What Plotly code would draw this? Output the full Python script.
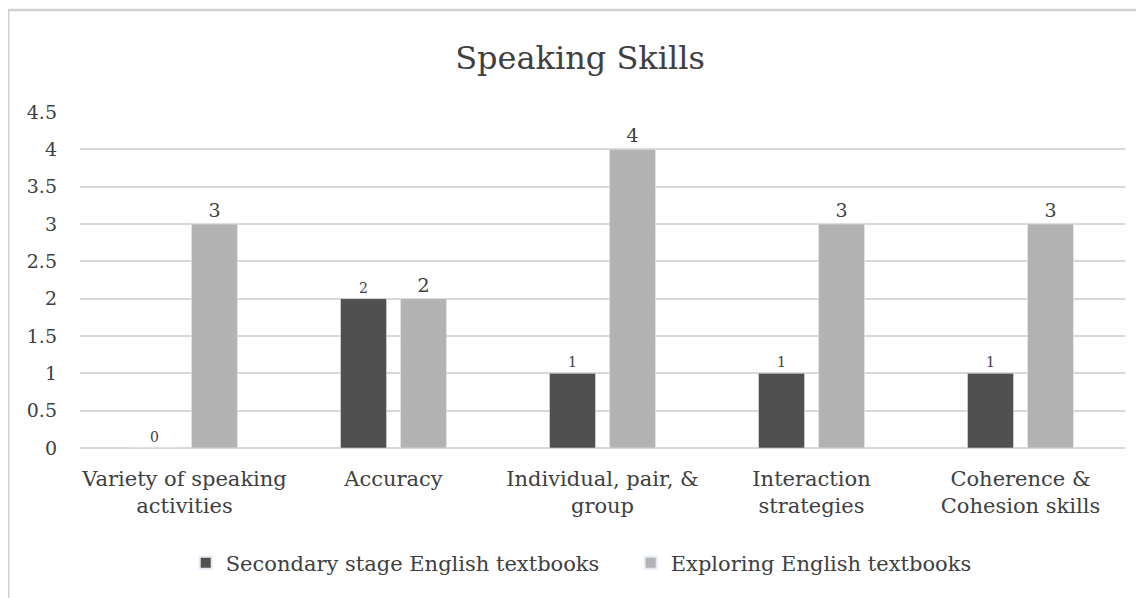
import plotly.graph_objects as go

categories = ["Variety of speaking<br>activities", "Accuracy", "Individual, pair, &<br>group",
              "Interaction<br>strategies", "Coherence &<br>Cohesion skills"]
secondary = [0, 2, 1, 1, 1]
exploring = [3, 2, 4, 3, 3]
tick_vals = [0, 0.5, 1, 1.5, 2, 2.5, 3, 3.5, 4, 4.5]
tick_text = ["0", "0.5", "1", "1.5", "2", "2.5", "3", "3.5", "4", "4.5"]

font_family = "DejaVu Serif, Liberation Serif, serif"
text_color = "#404040"

W, H = 1144, 598
L, R, T, B = 72, 27, 104, 158
PW, PH = W - L - R, H - T - B

def px(xf):
    return (xf - L) / PW

def py(yf):
    return (H - B - yf) / PH

fig = go.Figure()
fig.add_trace(go.Bar(
    x=categories, y=secondary, name="Secondary stage English textbooks",
    marker=dict(color="#505050"), text=[str(v) for v in secondary],
    textposition="outside", textfont=dict(size=14, color=text_color, family=font_family),
    cliponaxis=False,
))
fig.add_trace(go.Bar(
    x=categories, y=exploring, name="Exploring English textbooks",
    marker=dict(color="#b3b3b3"), text=[str(v) for v in exploring],
    textposition="outside", textfont=dict(size=19, color=text_color, family=font_family),
    cliponaxis=False,
))

fig.update_layout(
    width=W, height=H,
    paper_bgcolor="white", plot_bgcolor="white",
    font=dict(family=font_family, color=text_color),
    title=dict(text="Speaking Skills", x=0.5, xanchor="center", y=1 - 50 / H, yanchor="middle",
               font=dict(size=32, color=text_color, family=font_family)),
    margin=dict(l=L, r=R, t=T, b=B, pad=0),
    barmode="group", bargap=0.426, bargroupgap=0.233,
    showlegend=True,
    legend=dict(orientation="h", x=0.527, xanchor="center", y=py(555), yanchor="middle",
                font=dict(size=21, color=text_color, family=font_family),
                itemsizing="constant", traceorder="normal",
                entrywidth=400, entrywidthmode="pixels"),
    xaxis=dict(showgrid=False, showline=False, ticks="", tickfont=dict(size=21, color=text_color),
               ticklabelstandoff=16),
    yaxis=dict(range=[0, 4.5], tickvals=tick_vals, ticktext=tick_text,
               showgrid=True, gridcolor="#d9d9d9", gridwidth=1.5,
               zeroline=True, zerolinecolor="#d9d9d9", zerolinewidth=1.5,
               tickfont=dict(size=19, color=text_color), ticks="", ticklabelstandoff=22),
    shapes=[
        dict(type="line", xref="paper", yref="paper", x0=px(0), x1=px(W), y0=py(2), y1=py(2),
             line=dict(color="#d0d0d0", width=2.5)),
        dict(type="line", xref="paper", yref="paper", x0=px(0), x1=px(0), y0=py(2), y1=py(H),
             line=dict(color="#d0d0d0", width=3)),
    ],
)

fig.write_html("out.html")
